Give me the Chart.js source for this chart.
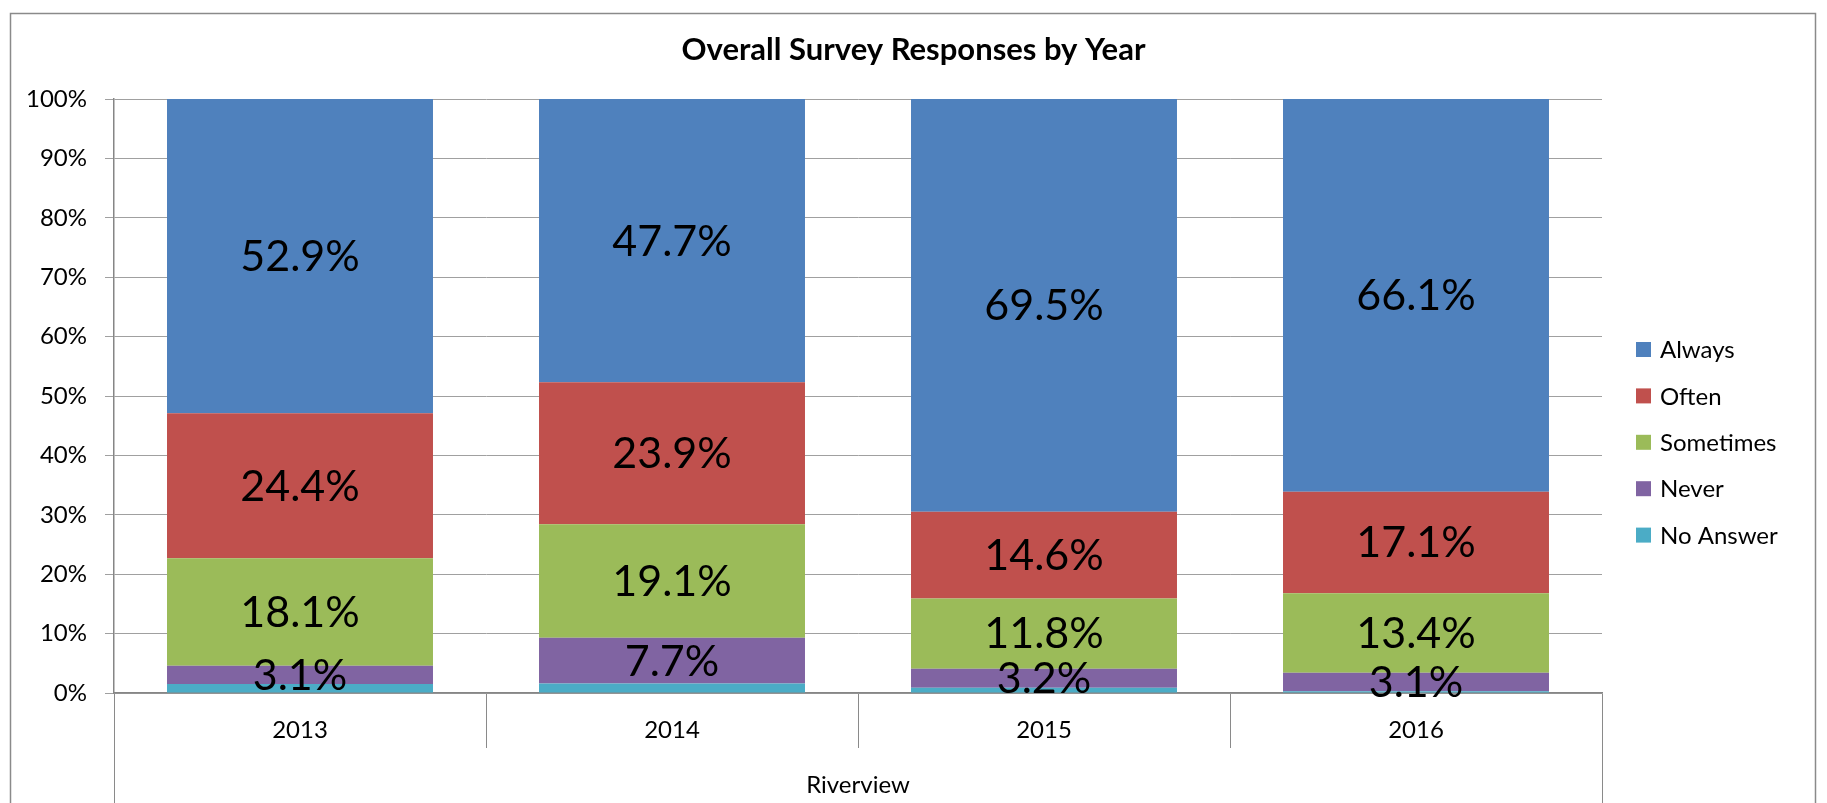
<!DOCTYPE html>
<html>
<head>
<meta charset="utf-8">
<script src="https://cdn.jsdelivr.net/npm/chart.js@4.4.1/dist/chart.umd.min.js"></script>
<style>
  html, body { margin: 0; padding: 0; background: #fff; overflow: hidden; }
</style>
</head>
<body>
<canvas id="survey" width="1827" height="803"></canvas>
<script>
// Overall Survey Responses by Year - Riverview (100% stacked bars)
var years = ["2013", "2014", "2015", "2016"];
var groupLabel = ["Riverview"];

var noAnswer  = [1.5, 1.6, 0.9, 0.3];
var never     = [3.1, 7.7, 3.2, 3.1];
var sometimes = [18.1, 19.1, 11.8, 13.4];
var often     = [24.4, 23.9, 14.6, 17.1];
var always    = [52.9, 47.7, 69.5, 66.1];

Chart.defaults.font.family = "Lato";
Chart.defaults.color = "#000";

// outer frame of the chart
var frame = {
    id: "frame",
    beforeDraw: function (chart) {
        var ctx = chart.ctx;
        ctx.save();
        ctx.strokeStyle = "#8a8a8a";
        ctx.lineWidth = 1.5;
        ctx.strokeRect(10.5, 13.5, 1805, 800);
        ctx.restore();
    }
};

// percentage in the middle of each segment
var segmentLabels = {
    id: "segmentLabels",
    afterDatasetsDraw: function (chart) {
        var ctx = chart.ctx;
        ctx.save();
        ctx.font = "43px Lato";
        ctx.fillStyle = "#000";
        ctx.textAlign = "center";
        ctx.textBaseline = "middle";
        chart.data.datasets.forEach(function (ds, i) {
            if (ds.showValues === false) return;
            chart.getDatasetMeta(i).data.forEach(function (bar, j) {
                var p = bar.getProps(["x", "y", "base"], true);
                ctx.fillText(ds.data[j].toFixed(1) + "%", p.x, (p.y + p.base) / 2 + 1);
            });
        });
        ctx.restore();
    }
};

// legend on the right, top series first
var sideLegend = {
    id: "sideLegend",
    afterDraw: function (chart) {
        var ctx = chart.ctx, sets = chart.data.datasets;
        var x = chart.chartArea.right + 34;
        ctx.save();
        ctx.font = "24px Lato";
        ctx.textAlign = "left";
        ctx.textBaseline = "middle";
        for (var k = 0; k < sets.length; k++) {
            var ds = sets[sets.length - 1 - k];
            var cy = 349.5 + k * 46.4;
            ctx.fillStyle = ds.backgroundColor;
            ctx.fillRect(x, cy - 7.5, 15, 15);
            ctx.fillStyle = "#000";
            ctx.fillText(ds.label, x + 24, cy + 1);
        }
        ctx.restore();
    }
};

var survey = document.getElementById("survey");
var surveyChart = new Chart(survey, {
    type: "bar",
    data: {
        labels: years,
        datasets: [
            { label: "No Answer", data: noAnswer, backgroundColor: "#4BACC6", showValues: false, xAxisID: "x", yAxisID: "y" },
            { label: "Never", data: never, backgroundColor: "#8064A2", xAxisID: "x", yAxisID: "y" },
            { label: "Sometimes", data: sometimes, backgroundColor: "#9BBB59", xAxisID: "x", yAxisID: "y" },
            { label: "Often", data: often, backgroundColor: "#C0504D", xAxisID: "x", yAxisID: "y" },
            { label: "Always", data: always, backgroundColor: "#4F81BD", xAxisID: "x", yAxisID: "y" }
        ]
    },
    options: {
        responsive: false,
        animation: false,
        barPercentage: 0.715,
        categoryPercentage: 1.0,
        layout: { padding: 0 },
        plugins: {
            legend: { display: false },
            tooltip: { enabled: false },
            title: {
                display: true,
                text: "Overall Survey Responses by Year",
                font: { size: 31, weight: "bold", lineHeight: 1.2 },
                color: "#000",
                padding: { top: 31.4, bottom: 30.4 }
            }
        },
        scales: {
            x: {
                stacked: true,
                weight: 0,
                grid: { offset: true, drawOnChartArea: false, tickLength: 55, color: "#8a8a8a" },
                border: { color: "#868686", width: 1.5 },
                ticks: { padding: -32.4, font: { size: 24, lineHeight: 1.2 } },
                afterFit: function (s) { s.height = 55; }
            },
            group: {
                type: "category",
                labels: groupLabel,
                position: "bottom",
                weight: 1,
                grid: { offset: true, drawOnChartArea: false, tickLength: 60, color: "#8a8a8a" },
                border: { display: false },
                ticks: { padding: -37.4, font: { size: 24, lineHeight: 1.2 } },
                afterFit: function (s) { s.height = 55; }
            },
            y: {
                stacked: true,
                min: 0,
                max: 100,
                grid: { color: "#a0a0a0", tickLength: 9 },
                border: { color: "#868686", width: 1.5 },
                ticks: {
                    stepSize: 10,
                    padding: 18,
                    font: { size: 24 },
                    callback: function (v) { return v + "%"; }
                },
                afterFit: function (s) { s.width = 114; }
            },
            // empty strip on the right that holds the legend
            legendSpace: {
                type: "linear",
                position: "right",
                grid: { display: false },
                border: { display: false },
                ticks: { display: false },
                afterFit: function (s) { s.width = 225; }
            }
        }
    },
    plugins: [frame, segmentLabels, sideLegend]
});
</script>
</body>
</html>
